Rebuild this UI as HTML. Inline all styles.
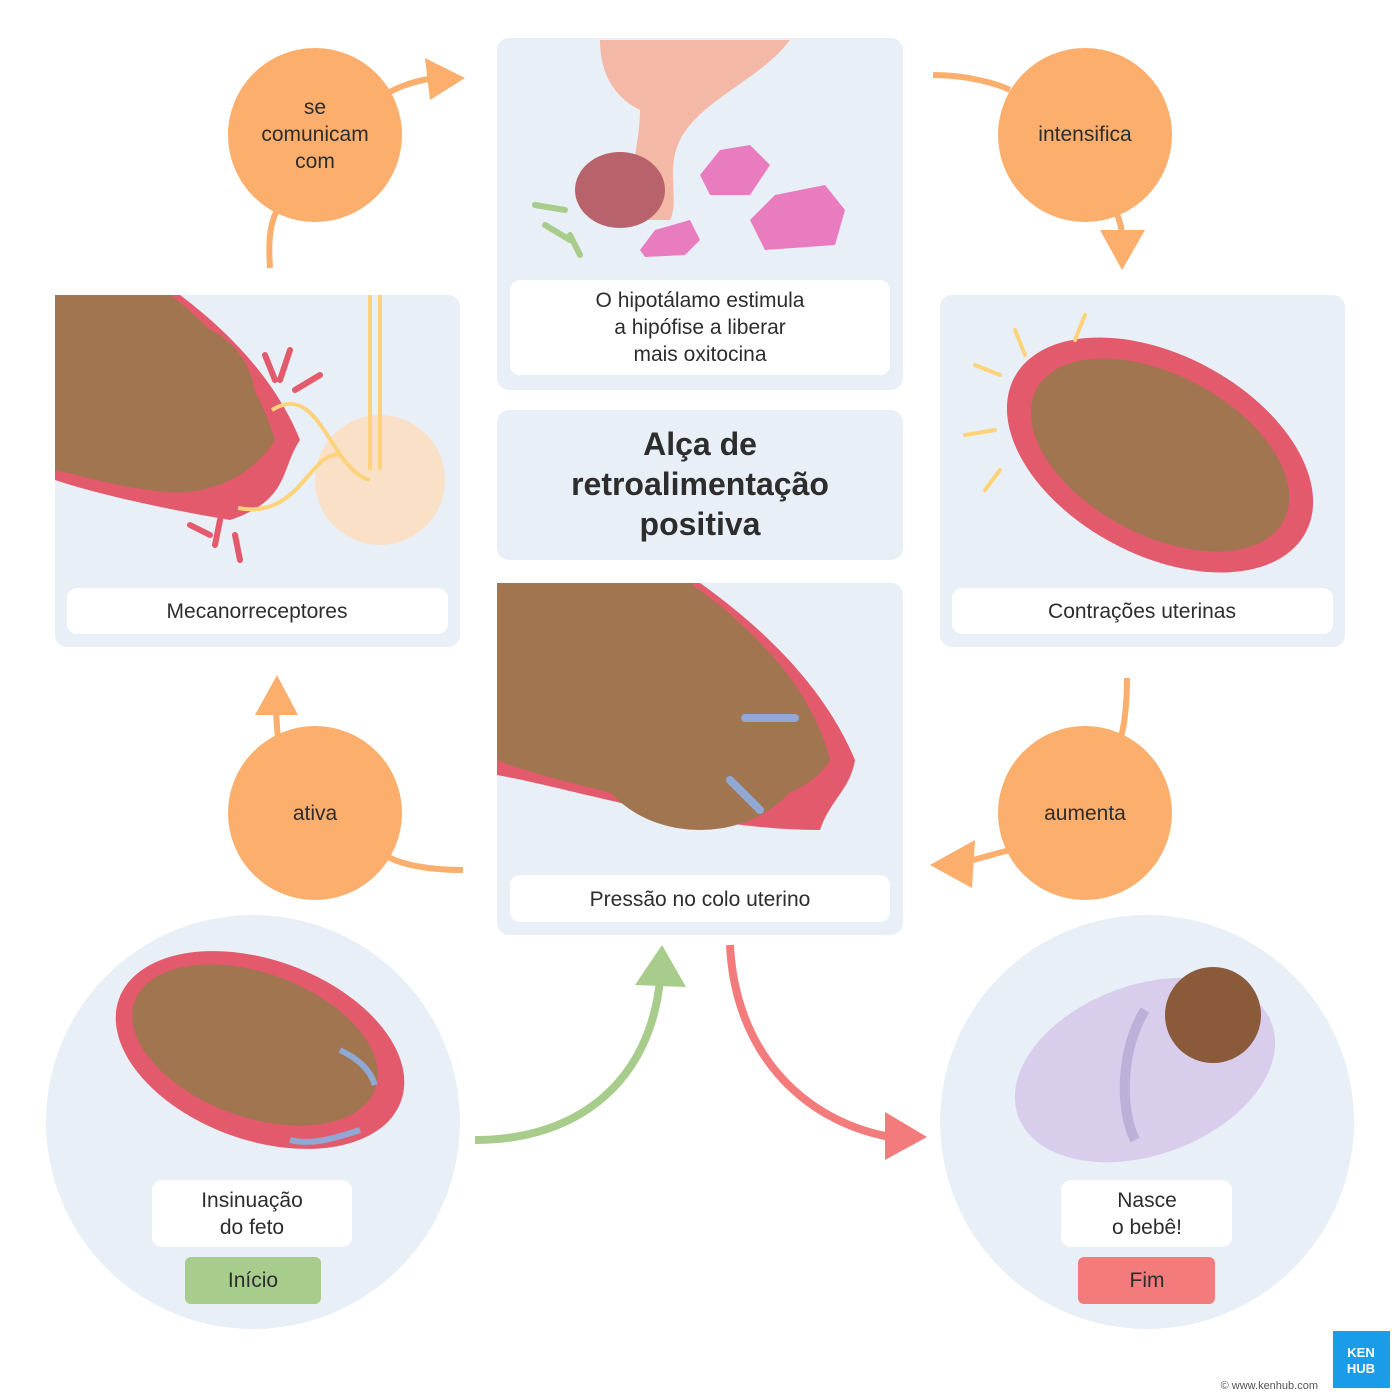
<!DOCTYPE html>
<html><head><meta charset="utf-8"><style>
html,body{margin:0;padding:0;background:#fff}
svg{display:block}
text{font-family:"Liberation Sans",sans-serif;fill:#2d2d2d}
</style></head><body>
<svg width="1400" height="1400" viewBox="0 0 1400 1400" xmlns="http://www.w3.org/2000/svg">
<defs>
<marker id="ao" markerWidth="10" markerHeight="10" refX="4" refY="5" orient="auto" markerUnits="userSpaceOnUse"><path d="M0,0 L10,5 L0,10 z" fill="#fcae6d"/></marker>
</defs>
<!-- panels -->
<rect x="497" y="38" width="406" height="352" rx="12" fill="#e8eff6"/>
<rect x="497" y="410" width="406" height="150" rx="12" fill="#e8eff6"/>
<rect x="497" y="583" width="406" height="352" rx="12" fill="#e8eff6"/>
<rect x="55" y="295" width="405" height="352" rx="12" fill="#e8eff6"/>
<rect x="940" y="295" width="405" height="352" rx="12" fill="#e8eff6"/>
<circle cx="253" cy="1122" r="207" fill="#e8eff6"/>
<circle cx="1147" cy="1122" r="207" fill="#e8eff6"/>

<!-- top illustration -->
<path d="M600,40 L790,40 C760,80 700,100 680,140 C665,170 680,200 670,220 L620,220 C630,180 640,140 640,110 C620,100 600,80 600,40z" fill="#f4b8a6"/>
<ellipse cx="620" cy="190" rx="45" ry="38" fill="#b8636b"/>
<path d="M700,175 l20,-25 l30,-5 l20,20 l-20,30 l-40,0z" fill="#e87cbf"/>
<path d="M750,220 l25,-25 l50,-10 l20,25 l-10,35 l-70,5z" fill="#e87cbf"/>
<path d="M640,250 l15,-20 l35,-10 l10,20 l-15,15 l-40,2z" fill="#e87cbf"/>
<path d="M535,205 l30,5 M545,225 l25,15 M570,235 l10,20" stroke="#a8cc8c" stroke-width="6" stroke-linecap="round"/>
<rect x="510" y="280" width="380" height="95" rx="10" fill="#fff"/>
<text x="700" y="307" font-size="21" text-anchor="middle">O hipotálamo estimula</text>
<text x="700" y="334" font-size="21" text-anchor="middle">a hipófise a liberar</text>
<text x="700" y="361" font-size="21" text-anchor="middle">mais oxitocina</text>

<text x="700" y="455" font-size="32" font-weight="bold" text-anchor="middle">Alça de</text>
<text x="700" y="495" font-size="32" font-weight="bold" text-anchor="middle">retroalimentação</text>
<text x="700" y="535" font-size="32" font-weight="bold" text-anchor="middle">positiva</text>

<!-- center illustration -->
<path d="M497,583 L700,583 C780,640 830,700 855,760 C850,790 830,800 820,830 C700,830 580,790 497,775z" fill="#e25a6c"/>
<path d="M497,583 L690,583 C770,640 815,700 830,760 C800,810 700,820 600,790 C560,780 520,770 497,760z" fill="#a07550"/>
<ellipse cx="700" cy="740" rx="110" ry="90" fill="#a07550"/>
<path d="M745,718 l50,0 M730,780 l30,30" stroke="#8fa8d4" stroke-width="8" stroke-linecap="round"/>
<rect x="510" y="875" width="380" height="47" rx="10" fill="#fff"/>
<text x="700" y="906" font-size="21" text-anchor="middle">Pressão no colo uterino</text>

<!-- left illustration -->
<path d="M55,295 L180,295 C240,340 280,390 300,440 C280,470 290,500 230,520 C170,510 100,495 55,480z" fill="#e25a6c"/>
<path d="M55,295 L170,295 C230,340 260,390 275,440 C250,480 200,500 150,490 C110,485 80,475 55,470z" fill="#a07550"/>
<ellipse cx="170" cy="400" rx="85" ry="80" fill="#a07550"/>
<circle cx="380" cy="480" r="65" fill="#fbe0c8"/>
<path d="M370,295 L370,470 M380,295 L380,470 M272,410 C320,380 330,470 370,480 M238,508 C300,520 310,450 340,455" stroke="#fcd37a" stroke-width="4" fill="none"/>
<path d="M265,355 l10,25 M290,350 l-10,30 M320,375 l-25,15 M190,525 l20,10 M215,545 l5,-25 M240,560 l-5,-25" stroke="#e25a6c" stroke-width="6" stroke-linecap="round"/>
<rect x="67" y="588" width="381" height="46" rx="10" fill="#fff"/>
<text x="257" y="618" font-size="21" text-anchor="middle">Mecanorreceptores</text>

<!-- right illustration -->
<ellipse cx="1160" cy="455" rx="165" ry="100" transform="rotate(28 1160 455)" fill="#e25a6c"/>
<ellipse cx="1160" cy="455" rx="140" ry="80" transform="rotate(28 1160 455)" fill="#a07550"/>
<path d="M1025,355 l-10,-25 M1075,340 l10,-25 M1000,375 l-25,-10 M995,430 l-30,5 M1000,470 l-15,20" stroke="#fcd37a" stroke-width="4" stroke-linecap="round"/>
<rect x="952" y="588" width="381" height="46" rx="10" fill="#fff"/>
<text x="1142" y="618" font-size="21" text-anchor="middle">Contrações uterinas</text>

<!-- bottom left illustration -->
<ellipse cx="260" cy="1050" rx="150" ry="90" transform="rotate(20 260 1050)" fill="#e25a6c"/>
<ellipse cx="255" cy="1045" rx="128" ry="72" transform="rotate(20 255 1045)" fill="#a07550"/>
<path d="M340,1050 C360,1060 370,1070 375,1085 M290,1140 C310,1145 330,1140 360,1130" stroke="#8fa8d4" stroke-width="6" fill="none"/>
<rect x="152" y="1180" width="200" height="67" rx="10" fill="#fff"/>
<text x="252" y="1207" font-size="21" text-anchor="middle">Insinuação</text>
<text x="252" y="1234" font-size="21" text-anchor="middle">do feto</text>
<rect x="185" y="1257" width="136" height="47" rx="6" fill="#a8cc8c"/>
<text x="253" y="1287" font-size="21" text-anchor="middle">Início</text>

<!-- bottom right illustration -->
<ellipse cx="1145" cy="1070" rx="135" ry="85" transform="rotate(-20 1145 1070)" fill="#d8cdea"/>
<circle cx="1213" cy="1015" r="48" fill="#8a5a3a"/>
<path d="M1145,1010 C1120,1050 1120,1110 1135,1140" stroke="#bdb0d8" stroke-width="10" fill="none"/>
<rect x="1061" y="1180" width="171" height="67" rx="10" fill="#fff"/>
<text x="1147" y="1207" font-size="21" text-anchor="middle">Nasce</text>
<text x="1147" y="1234" font-size="21" text-anchor="middle">o bebê!</text>
<rect x="1078" y="1257" width="137" height="47" rx="6" fill="#f47b7b"/>
<text x="1147" y="1287" font-size="21" text-anchor="middle">Fim</text>

<!-- connectors -->
<path d="M270,268 C268,240 270,220 280,205" stroke="#fcae6d" stroke-width="6" fill="none"/>
<path d="M385,95 C400,85 420,80 435,78" stroke="#fcae6d" stroke-width="6" fill="none"/>
<path d="M425,58 L465,78 L430,100z" fill="#fcae6d"/>
<path d="M933,75 C970,75 1000,85 1010,90" stroke="#fcae6d" stroke-width="6" fill="none"/>
<path d="M1115,210 C1120,220 1122,230 1122,235" stroke="#fcae6d" stroke-width="6" fill="none"/>
<path d="M1100,230 L1145,230 L1122,270z" fill="#fcae6d"/>
<path d="M1127,678 C1127,700 1125,725 1120,740" stroke="#fcae6d" stroke-width="6" fill="none"/>
<path d="M1010,850 C990,855 975,860 965,862" stroke="#fcae6d" stroke-width="6" fill="none"/>
<path d="M975,840 L930,865 L972,888z" fill="#fcae6d"/>
<path d="M463,870 C430,870 400,865 385,855" stroke="#fcae6d" stroke-width="6" fill="none"/>
<path d="M278,740 L276,712" stroke="#fcae6d" stroke-width="6" fill="none"/>
<path d="M255,715 L277,675 L298,715z" fill="#fcae6d"/>
<path d="M475,1140 C580,1140 650,1080 660,980" stroke="#a8cc8c" stroke-width="8" fill="none"/>
<path d="M635,985 L662,945 L686,987z" fill="#a8cc8c"/>
<path d="M730,945 C735,1050 800,1120 890,1137" stroke="#f47b7b" stroke-width="8" fill="none"/>
<path d="M885,1112 L927,1137 L885,1160z" fill="#f47b7b"/>

<!-- orange circles -->
<circle cx="315" cy="135" r="87" fill="#fcae6d"/>
<text x="315" y="114" font-size="21" text-anchor="middle">se</text>
<text x="315" y="141" font-size="21" text-anchor="middle">comunicam</text>
<text x="315" y="168" font-size="21" text-anchor="middle">com</text>
<circle cx="1085" cy="135" r="87" fill="#fcae6d"/>
<text x="1085" y="141" font-size="21" text-anchor="middle">intensifica</text>
<circle cx="315" cy="813" r="87" fill="#fcae6d"/>
<text x="315" y="820" font-size="21" text-anchor="middle">ativa</text>
<circle cx="1085" cy="813" r="87" fill="#fcae6d"/>
<text x="1085" y="820" font-size="21" text-anchor="middle">aumenta</text>

<!-- logo -->
<rect x="1333" y="1331" width="57" height="57" fill="#1a9ce8"/>
<text x="1361" y="1357" font-size="13" font-weight="bold" text-anchor="middle" style="fill:#fff">KEN</text>
<text x="1361" y="1373" font-size="13" font-weight="bold" text-anchor="middle" style="fill:#fff">HUB</text>
<text x="1318" y="1389" font-size="11" text-anchor="end" style="fill:#555">© www.kenhub.com</text>
</svg>
</body></html>
